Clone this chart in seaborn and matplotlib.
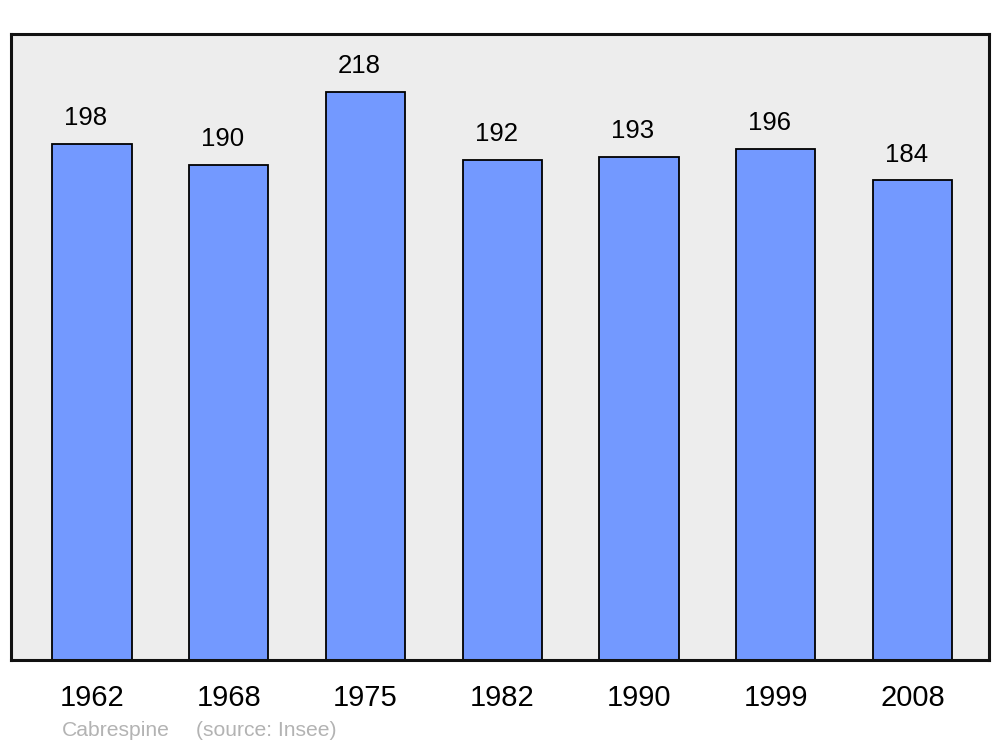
import matplotlib
matplotlib.use("Agg")
import matplotlib.pyplot as plt
import seaborn as sns
import pandas as pd

years = ["1962", "1968", "1975", "1982", "1990", "1999", "2008"]
population = [198, 190, 218, 192, 193, 196, 184]
commune = "Cabrespine"
source = "(source: Insee)"

sns.set_theme(style="white")
plt.rcParams["font.family"] = ["Liberation Sans", "DejaVu Sans"]

df = pd.DataFrame({"year": years, "pop": population})

fig = plt.figure(figsize=(10, 7.47), dpi=100)
ax = fig.add_axes([0.011, (747 - 660) / 747, 0.978, 626 / 747])
ax.set_facecolor("#ededed")

sns.barplot(data=df, x="year", y="pop", color="#7399ff", saturation=1,
            width=0.58, edgecolor="black", linewidth=1.3, ax=ax)

ax.set_ylim(0, 240.2)
ax.set_xlim(-0.592, 6.56)
ax.set_xlabel("")
ax.set_ylabel("")
ax.set_yticks([])
ax.tick_params(axis="x", length=0, pad=17.5, labelsize=21, colors="black")
for s in ax.spines.values():
    s.set_visible(True)
    s.set_color("#111111")
    s.set_linewidth(2.2)

for i, v in enumerate(population):
    ax.annotate(str(v), (i, v), xytext=(-4.3, 18.5), textcoords="offset points",
                ha="center", va="center", fontsize=18.5, color="black")

fig.text(0.062, 1 - 731 / 747, commune, fontsize=15.2, color="#b3b3b3",
         ha="left", va="center")
fig.text(0.196, 1 - 731 / 747, source, fontsize=15.2, color="#b3b3b3",
         ha="left", va="center")

fig.savefig("out.png", dpi=100)
